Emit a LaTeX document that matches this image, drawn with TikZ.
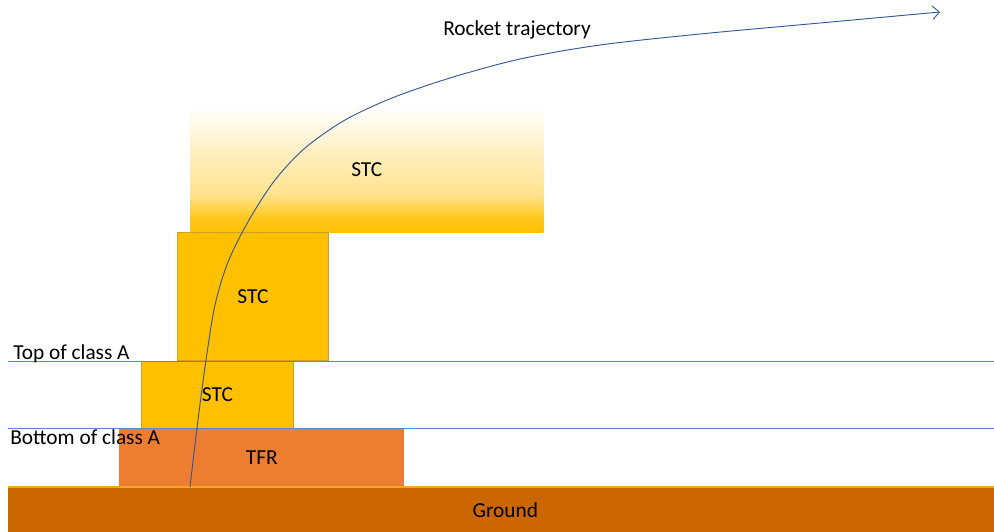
\documentclass[tikz,border=0pt]{standalone}
\usepackage{fontspec}
\setmainfont{Carlito}
\usetikzlibrary{arrows.meta}

\definecolor{stcyellow}{HTML}{FFC000}
\definecolor{stcedge}{HTML}{C9A227}
\definecolor{tfrorange}{HTML}{ED7D31}
\definecolor{groundbrown}{HTML}{CC6600}
\definecolor{groundedge}{HTML}{F5A623}
\definecolor{classblue}{HTML}{5B86CC}
\definecolor{trajblue}{HTML}{35589A}

% Fading from solid yellow at the bottom to white at the top
\pgfdeclareverticalshading{stcfade}{100bp}{%
  color(0bp)=(stcyellow); color(25bp)=(stcyellow);
  color(31bp)=(stcyellow!88); color(40bp)=(stcyellow!45);
  color(55bp)=(stcyellow!27); color(75bp)=(white); color(100bp)=(white)}

\begin{document}
\begin{tikzpicture}[x=0.75pt,y=-0.75pt,
  font=\fontsize{16}{19}\selectfont,
  zonebox/.style={rectangle, inner sep=0pt, anchor=north west},
  stcbox/.style={zonebox, fill=stcyellow, draw=stcedge, line width=0.6pt},
  classline/.style={draw=classblue, line width=0.6pt},
  labeltext/.style={inner sep=0pt, anchor=base west},
  traj/.style={draw=trajblue, line width=0.7pt,
    -{Straight Barb[length=5pt,width=10pt]}}]

\clip (0,0) rectangle (994,531);

% Safety zones
\node[zonebox, shade, shading=stcfade,
      minimum width=353*0.75pt, minimum height=125*0.75pt] (stctop) at (190,107) {STC};
\node[stcbox, minimum width=151*0.75pt, minimum height=128*0.75pt] (stcmid) at (177,232) {STC};
\node[stcbox, minimum width=152*0.75pt, minimum height=67*0.75pt] (stclow) at (141,361) {STC};
\node[zonebox, fill=tfrorange, minimum width=285*0.75pt, minimum height=59*0.75pt] (tfr) at (119,428) {TFR};

% Ground
\node[zonebox, fill=groundbrown, minimum width=994*0.75pt, minimum height=46*0.75pt] (ground) at (8,487) {Ground};
\draw[groundedge, line width=0.8pt] (ground.north west) -- (ground.north east);

% Class A airspace limits
\draw[classline] (8,361) -- (994,361);
\draw[classline] (8,428) -- (994,428);
\node[labeltext] (topA) at (13,359) {Top of class A};
\node[labeltext] (botA) at (10,444) {Bottom of class A};

% Trajectory
\coordinate (launch) at (190,487);
\coordinate (apex) at (940,12);
\draw[traj] plot[smooth, tension=0.5] coordinates {(launch) (198,420) (206,360)
  (215,305) (228,262) (249,220) (275,180) (305,148) (345,120) (392,98) (450,78)
  (520,59) (600,45) (700,34) (820,23) (apex)};
\node[labeltext] (trajlabel) at (443,36) {Rocket trajectory};

\end{tikzpicture}
\end{document}
